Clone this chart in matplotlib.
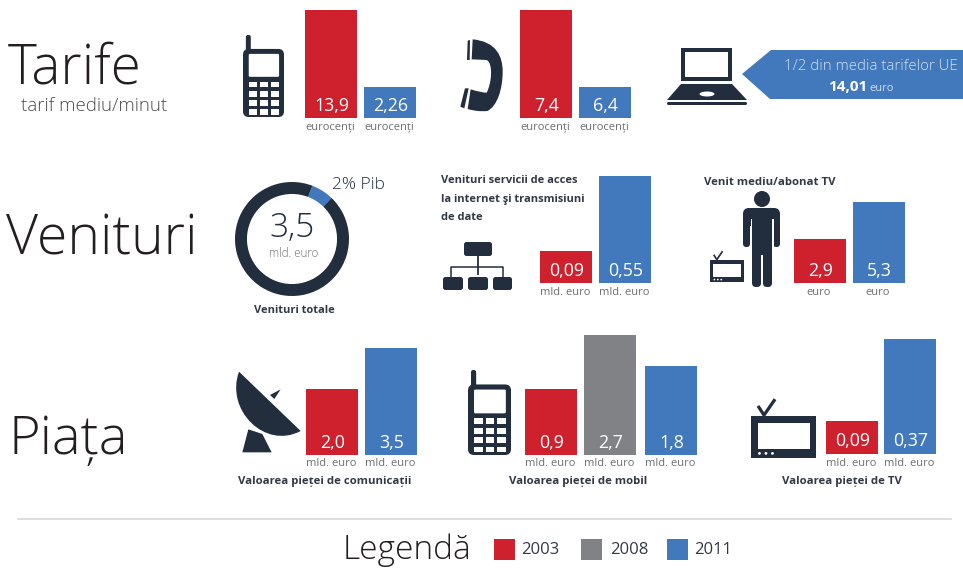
#!/usr/bin/env python3
# -*- coding: utf-8 -*-
import matplotlib
matplotlib.use("Agg")
import matplotlib.pyplot as plt
from matplotlib.patches import Circle, Ellipse, FancyBboxPatch, PathPatch, Polygon, Rectangle
from matplotlib.path import Path

W, H = 963, 569
ROSU, GRI, ALBASTRU = "#CF202E", "#808285", "#4279BD"
INCHIS = "#222D3D"
TEXT = "#323846"
UNITATE = "#6D6E71"
FONT = "Open Sans"

## Altura de las barras (px leidos de la imagen, no estan a escala)
tarif_mobil_h = [108, 31]
tarif_mobil_txt = ["13,9", "2,26"]
tarif_fix_h = [108, 31]
tarif_fix_txt = ["7,4", "6,4"]
acces_h = [32, 107]
acces_txt = ["0,09", "0,55"]
abonat_h = [44, 81]
abonat_txt = ["2,9", "5,3"]
com_h = [66, 107]
com_txt = ["2,0", "3,5"]
mobil_h = [66, 120, 89]
mobil_txt = ["0,9", "2,7", "1,8"]
tv_h = [33, 115]
tv_txt = ["0,09", "0,37"]

donut_parti = [6.4, 93.6]
ani = ["2003", "2008", "2011"]

fig = plt.figure(figsize=(W/100, H/100), dpi=100)
ax = fig.add_axes([0, 0, 1, 1])
ax.set_xlim(0, W)
ax.set_ylim(H, 0)
ax.axis("off")


def txt(x, y, s, size, color=INCHIS, ha="center", va="center", weight="normal"):
    ax.text(x, y, s, fontsize=size, color=color, ha=ha, va=va,
            weight=weight, family=FONT)


def bare(x0, baza, inalt, texte, culori, unit, pas=59):
    """Un grup de bare: axe propriu, cu 1 unitate = 1 px."""
    xs = pas if isinstance(pas, list) else [i*pas for i in range(len(inalt))]
    lat = xs[-1] + 52
    sus = max(inalt)
    a = fig.add_axes([x0/W, 1 - baza/H, lat/W, sus/H])
    a.patch.set_alpha(0)
    a.bar([x + 26 for x in xs], inalt, width=52, color=culori, linewidth=0)
    a.set_xlim(0, lat)
    a.set_ylim(0, sus)
    a.axis("off")
    for x, s in zip(xs, texte):
        a.text(x + 26.5, 12.5, s, color="white", fontsize=12.8, family=FONT,
               ha="center", va="center")
        a.text(x + 25, -9, unit, color=UNITATE, fontsize=8, family=FONT,
               ha="center", va="center", clip_on=False)


def rotunjit(x0, y0, x1, y1, r, color=INCHIS):
    ax.add_patch(FancyBboxPatch((x0 + r, y0 + r), x1 - x0 - 2*r, y1 - y0 - 2*r,
                                boxstyle="round,pad=%g,rounding_size=%g" % (r, r),
                                fc=color, ec="none"))


def telefon(x0, y0, x1, y1):
    # y0 = varful antenei, y1 = baza corpului
    w, h = x1 - x0, y1 - y0
    rotunjit(x0 + .07*w, y0, x0 + .19*w, y0 + .25*h, .05*w)
    rotunjit(x0, y0 + .17*h, x1, y1, .14*w)
    rotunjit(x0 + .14*w, y0 + .23*h, x0 + .88*w, y0 + .51*h, .03*w, "white")
    for cx in (.14, .41, .68):
        for cy in (.57, .68, .79, .9):
            ax.add_patch(Rectangle((x0 + cx*w, y0 + cy*h), .2*w, .07*h, fc="white", ec="none"))


def televizor(x0, y0, x1, y1):
    # dreptunghiul carcasei; antena iese deasupra
    w, h = x1 - x0, y1 - y0
    ax.add_patch(Rectangle((x0, y0), w, h, fc=INCHIS, ec="none"))
    ax.add_patch(Rectangle((x0 + .1*w, y0 + .17*h), .8*w, .62*h, fc="white", ec="none"))
    ax.plot([x0 + .108*w, x0 + .2*w, x0 + .37*w], [y0 - .24*h, y0 - .02*h, y0 - .4*h],
            color=INCHIS, lw=w/28, solid_capstyle="butt")
    for cx in (.13, .23, .33):
        ax.add_patch(Circle((x0 + cx*w, y0 + .89*h), .017*w + .3, fc="white", ec="none"))


# Titluri de sectiune
txt(8, 83, "Tarife", 39.5, "#231F20", ha="left", va="baseline", weight="light")
txt(21, 106, "tarif mediu/minut", 13.4, "#4D4D4F", ha="left", weight="light")
txt(6, 254, "Venituri", 40, "#231F20", ha="left", va="baseline", weight="light")
txt(9, 454, "Piața", 39, "#231F20", ha="left", va="baseline", weight="light")

# Tarife
telefon(243, 35, 284, 117)
bare(305, 118, tarif_mobil_h, tarif_mobil_txt, [ROSU, ALBASTRU], "eurocenți")

Z = lambda x, y: (230 + x/3, y/3)
M, L, C4 = Path.MOVETO, Path.LINETO, Path.CURVE4
recept = [(728, 118), (800, 125), (818, 170), (818, 215),
          (818, 270), (800, 320), (772, 333),
          (750, 335), (730, 332), (713, 327),
          (722, 268),
          (745, 275), (760, 278), (770, 278),
          (785, 250), (790, 190), (770, 180),
          (725, 178), (728, 118)]
coduri = [M, C4, C4, C4, C4, C4, C4, C4, C4, C4, L, C4, C4, C4, C4, C4, C4, L, Path.CLOSEPOLY]
ax.add_patch(PathPatch(Path([Z(*p) for p in recept], coduri), fc=INCHIS, ec="none"))
ax.add_patch(Polygon([Z(*p) for p in [(713, 122), (720, 120), (719, 180), (711, 180)]], fc=INCHIS, ec="none"))
ax.add_patch(Polygon([Z(*p) for p in [(705, 265), (716, 265), (703, 325), (691, 320)]], fc=INCHIS, ec="none"))
bare(520, 118, tarif_fix_h, tarif_fix_txt, [ROSU, ALBASTRU], "eurocenți")

# Laptop + sageata
ax.add_patch(Rectangle((681, 48), 51, 33, fc=INCHIS, ec="none"))
ax.add_patch(Rectangle((685, 52), 43, 25, fc="white", ec="none"))
ax.add_patch(Polygon([(681, 84), (732, 84), (747, 100), (667, 100)], fc=INCHIS, ec="none"))
ax.add_patch(Ellipse((707, 94), 15, 5, fc="white", ec="none"))
rotunjit(667, 102, 747, 105, 1.5)
ax.add_patch(Polygon([(742, 74), (771, 50), (963, 50), (963, 99), (770, 99)], fc=ALBASTRU, ec="none"))
txt(871, 66, "1/2 din media tarifelor UE", 10.8, "#D3DFEF", weight="light")
txt(828, 87, "14,01", 11, "white", ha="left", weight="bold")
txt(869, 88, "euro", 8, "#CFDCEE", ha="left")

# Venituri: inel
ring = fig.add_axes([(292 - 57)/W, 1 - (239 + 57)/H, 114/W, 114/H])
ring.pie(donut_parti, colors=[ALBASTRU, INCHIS], startangle=46, counterclock=True,
         radius=1.0, wedgeprops={"width": 0.21, "linewidth": 0})
ring.set_xlim(-1, 1)
ring.set_ylim(-1, 1)
txt(358, 185, "2% Pib", 12.5, INCHIS, weight="light")
txt(292, 228, "3,5", 24, INCHIS, weight="light")
txt(294, 253, "mld. euro", 8.3, UNITATE, weight="light")
txt(294, 310, "Venituri totale", 8, TEXT, weight="bold")

# Venituri: retea
txt(441, 180, "Venituri servicii de acces", 8, TEXT, ha="left", weight="bold")
txt(441, 199, "la internet şi transmisiuni", 8, TEXT, ha="left", weight="bold")
txt(441, 217, "de date", 8, TEXT, ha="left", weight="bold")
rotunjit(464, 242, 492, 256, 2.5)
rotunjit(443, 277, 463, 290, 2.5)
rotunjit(468, 277, 488, 290, 2.5)
rotunjit(493, 277, 512, 290, 2.5)
ax.plot([478, 478], [256, 274], color=INCHIS, lw=1.3)
ax.plot([451, 451, 503, 503], [277, 267, 267, 277], color=INCHIS, lw=1.1)
bare(540, 283, acces_h, acces_txt, [ROSU, ALBASTRU], "mld. euro")

# Venituri: abonat
txt(704, 182, "Venit mediu/abonat TV", 8.2, TEXT, ha="left", weight="bold")
ax.add_patch(Circle((762, 199), 8, fc=INCHIS, ec="none"))
rotunjit(743, 208, 780, 226, 6)
rotunjit(743, 212, 750, 247, 3.4)
rotunjit(773, 212, 780, 247, 3.4)
ax.add_patch(Rectangle((750.5, 219), 1.8, 30, fc="white", ec="none"))
ax.add_patch(Rectangle((771.8, 219), 1.8, 30, fc="white", ec="none"))
ax.add_patch(Rectangle((752, 215), 20, 40, fc=INCHIS, ec="none"))
rotunjit(752, 245, 761, 287, 4)
rotunjit(763, 245, 772, 287, 4)
televizor(710, 260, 744, 282)
bare(794, 283, abonat_h, abonat_txt, [ROSU, ALBASTRU], "euro")

# Piata: antena parabolica
D = lambda x, y: (225 + x/3, 330 + y/3)
ax.add_patch(PathPatch(Path([D(42, 125), D(0, 240), D(120, 360), D(227, 303), D(42, 125)],
                            [Path.MOVETO, Path.CURVE4, Path.CURVE4, Path.CURVE4, Path.CLOSEPOLY]),
                       fc=INCHIS, ec="none"))
ax.add_patch(Polygon([D(*p) for p in [(70, 298), (52, 367), (140, 367), (112, 312)]], fc=INCHIS, ec="none"))
ax.add_patch(Polygon([D(*p) for p in [(135, 195), (167, 178), (148, 207)]], fc=INCHIS, ec="none"))
bare(306, 455, com_h, com_txt, [ROSU, ALBASTRU], "mld. euro")
txt(325, 481, "Valoarea pieței de comunicații", 8.2, TEXT, weight="bold")

telefon(468, 370, 511, 455)
bare(525, 455, mobil_h, mobil_txt, [ROSU, GRI, ALBASTRU], "mld. euro", pas=[0, 59, 120])
txt(578, 481, "Valoarea pieței de mobil", 8.2, TEXT, weight="bold")

televizor(751, 416, 816, 458)
bare(826, 454, tv_h, tv_txt, [ROSU, ALBASTRU], "mld. euro", pas=58)
txt(842, 481, "Valoarea pieței de TV", 8.2, TEXT, weight="bold")

# Legenda
ax.plot([18, 951], [518.5, 518.5], color="#D9D9D9", lw=1.2)
txt(343, 559, "Legendă", 24, "#231F20", ha="left", va="baseline", weight="light")
for x, xt, c, an in zip([494, 581, 667], [521, 610, 694], [ROSU, GRI, ALBASTRU], ani):
    ax.add_patch(Rectangle((x, 539), 21, 21, fc=c, ec="none"))
    txt(xt, 550, an, 12, TEXT, ha="left")

fig.savefig("out.png", dpi=100)
